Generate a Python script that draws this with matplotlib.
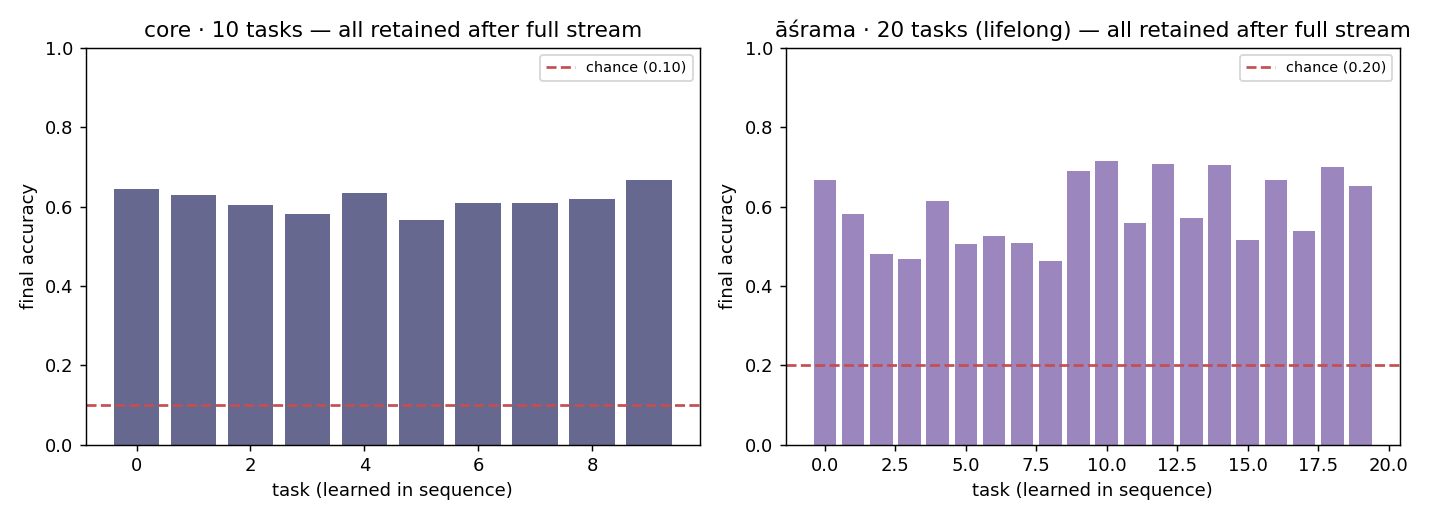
import numpy as np
import matplotlib.pyplot as plt

# final accuracy per task
core_acc = [0.643, 0.628, 0.603, 0.582, 0.633, 0.565, 0.610, 0.608, 0.620, 0.666]
asrama_acc = [0.666, 0.582, 0.481, 0.468, 0.613, 0.506, 0.527, 0.509, 0.463, 0.689,
              0.716, 0.559, 0.706, 0.572, 0.704, 0.516, 0.668, 0.539, 0.699, 0.651]
core_chance = 0.10
asrama_chance = 0.20

panels = [
    ('core · 10 tasks — all retained after full stream', core_acc, core_chance, '#66688f'),
    ('āśrama · 20 tasks (lifelong) — all retained after full stream', asrama_acc, asrama_chance, '#9b86bd'),
]

fig, axes = plt.subplots(1, 2, figsize=(11, 4), dpi=130)
for ax, (title, acc, chance, color) in zip(axes, panels):
    x = np.arange(len(acc))
    ax.bar(x, acc, color=color)
    ax.axhline(chance, color='#c44e52', linestyle='--', label=f'chance ({chance:.2f})')
    ax.set_ylim(0, 1.0)
    ax.set_title(title)
    ax.set_xlabel('task (learned in sequence)')
    ax.set_ylabel('final accuracy')
    ax.legend(loc='upper right', fontsize=8)

fig.tight_layout()
fig.savefig('out.png')
